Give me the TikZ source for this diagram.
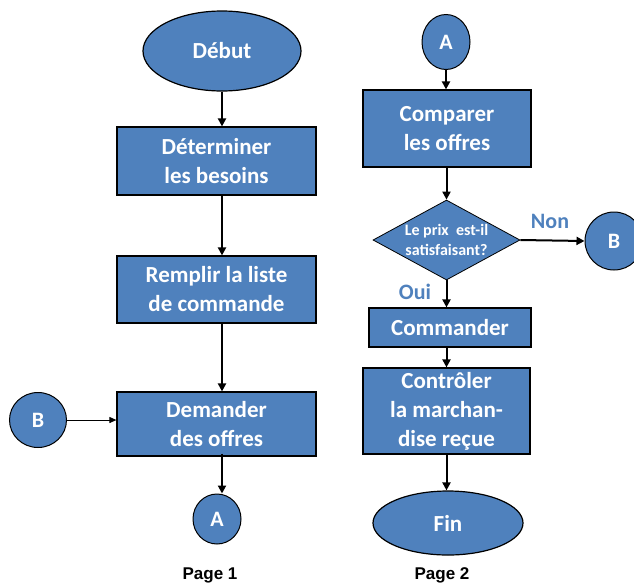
\documentclass[tikz,border=0pt]{standalone}
\usepackage{fontspec}
\setmainfont{Carlito}
\newfontfamily\arialfont{Liberation Sans}
\usetikzlibrary{shapes.geometric,arrows.meta}
\definecolor{fblue}{HTML}{4F81BD}
\begin{document}
\begin{tikzpicture}[x=1pt,y=-1pt,
  base/.style={draw=black,line width=1.2pt,fill=fblue,text=white,font=\bfseries\fontsize{23}{29}\selectfont,align=center,inner sep=0pt},
  proc/.style={base,rectangle},
  term/.style={base,ellipse},
  conn/.style={base,ellipse,line width=1pt,font=\bfseries\fontsize{22}{26}\selectfont},
  dia/.style={base,diamond,line width=0.8pt},
  arr/.style={line width=2pt,-{Triangle[length=8pt,width=8pt]}},
  thinarr/.style={line width=0.9pt,-{Triangle[length=7pt,width=6pt]}},
  lbl/.style={text=fblue,font=\bfseries\fontsize{22}{26}\selectfont,inner sep=0pt},
  page/.style={font=\arialfont\bfseries\fontsize{17}{20}\selectfont,inner sep=0pt}
]
\useasboundingbox (0,0) rectangle (634,587);
% Page 1
\node[term,minimum width=158pt,minimum height=80pt] (debut) at (222,51) {Début};
\node[proc,minimum width=199pt,minimum height=68pt] (b1) at (216.5,161) {Déterminer\\les besoins};
\node[proc,minimum width=199pt,minimum height=67pt] (b2) at (216.5,289.5) {Remplir la liste\\de commande};
\node[proc,minimum width=199pt,minimum height=64pt] (b3) at (216.5,424) {Demander\\des offres};
\node[conn,minimum width=57pt,minimum height=55pt] (bl) at (38,420) {B};
\node[conn,minimum width=48pt,minimum height=50pt] (al) at (217,519) {A};
\node[page] (p1) at (210,575) {Page 1};
\draw[arr] (debut.south) -- (debut.south |- b1.north);
\draw[arr] (b1.south -| debut.south) -- (debut.south |- b2.north);
\draw[arr] (b2.south -| debut.south) -- (debut.south |- b3.north);
\draw[arr] ([yshift=3pt]b3.south -| debut.south) -- (debut.south |- al.north);
\draw[thinarr] (bl.east) -- (bl.east -| b3.west);
% Page 2
\node[conn,minimum width=48pt,minimum height=55pt] (ar) at (446,42) {A};
\node[proc,minimum width=168pt,minimum height=77pt] (cmp) at (447,128.5) {Comparer\\les offres};
\node[dia,minimum width=147pt,minimum height=80pt] (q) at (446.5,240) {};
\node[text=white,font=\bfseries\fontsize{16}{20}\selectfont,align=center,inner sep=0pt] (qt) at (q.center) {Le prix\ \ est-il\\satisfaisant?};
\node[conn,minimum width=58pt,minimum height=58pt] (br) at (614,241) {B};
\node[proc,minimum width=162pt,minimum height=39pt] (cmd) at (450,327.5) {Commander};
\node[proc,minimum width=167pt,minimum height=86pt] (ctl) at (446.5,411) {Contrôler\\la marchan-\\dise reçue};
\node[term,minimum width=150pt,minimum height=64pt] (fin) at (448,523) {Fin};
\node[lbl] (non) at (550,221) {Non};
\node[lbl] (oui) at (415,292) {Oui};
\node[page] (p2) at (442,575) {Page 2};
\draw[arr] (ar.south) -- (ar.south |- cmp.north);
\draw[arr] (cmp.south -| q.north) -- (q.north);
\draw[arr] (q.east) -- (br.west);
\draw[arr] (q.south) -- (q.south |- cmd.north);
\draw[arr] (cmd.south -| q.south) -- (q.south |- ctl.north);
\draw[arr] (ctl.south -| q.south) -- (q.south |- fin.north);
\end{tikzpicture}
\end{document}
